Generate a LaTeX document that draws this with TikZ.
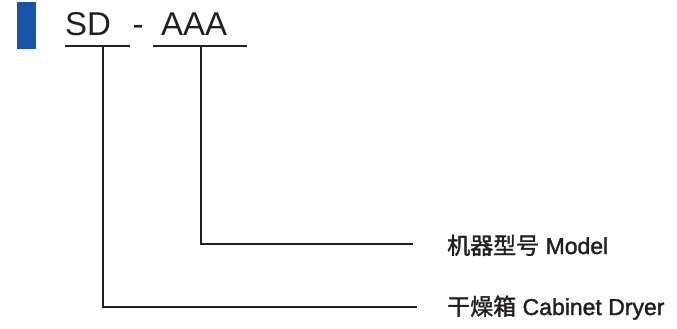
\documentclass[tikz,border=0pt]{standalone}
\usepackage{fontspec}
\setmainfont{Liberation Sans}
\newfontfamily\cjk[FakeBold=1.5]{Noto Sans CJK SC}
\newfontfamily\labfont[FakeBold=1.5]{Liberation Sans}
\definecolor{barblue}{RGB}{22,84,166}
\definecolor{ink}{RGB}{35,31,32}
\begin{document}
\begin{tikzpicture}[x=1pt,y=-1pt,
  ln/.style={line width=2pt, draw=ink, line cap=rect},
  big/.style={font=\fontsize{33}{33}\selectfont, text=ink, inner sep=0pt, anchor=base west},
  lab/.style={font=\labfont\fontsize{23}{23}\selectfont, text=ink, inner sep=0pt, anchor=base west}]
\useasboundingbox (0,0) rectangle (677,329);
\fill[barblue] (17,2) rectangle (36,49);
\node[big] (sd) at (65,36) {SD};
\node[big] (dash) at (132.5,36) {-};
\node[big] (aaa) at (161,36) {AAA};
\coordinate (sdl) at (66,46);
\coordinate (sdr) at (129,46);
\coordinate (aal) at (154,46);
\coordinate (aar) at (246,46);
\draw[ln] (sdl) -- (sdr);
\draw[ln] (aal) -- (aar);
\coordinate (sdt) at (103,46);
\coordinate (aat) at (201,46);
\node[lab] (model) at (447,254) {{\cjk 机器型号} Model};
\node[lab] (dryer) at (447,315) {{\cjk 干燥箱} Cabinet Dryer};
\coordinate (me) at (413,244);
\coordinate (de) at (417,307);
\draw[ln, line cap=butt] (aat) |- (me);
\draw[ln, line cap=butt] (sdt) |- (de);
\end{tikzpicture}
\end{document}
